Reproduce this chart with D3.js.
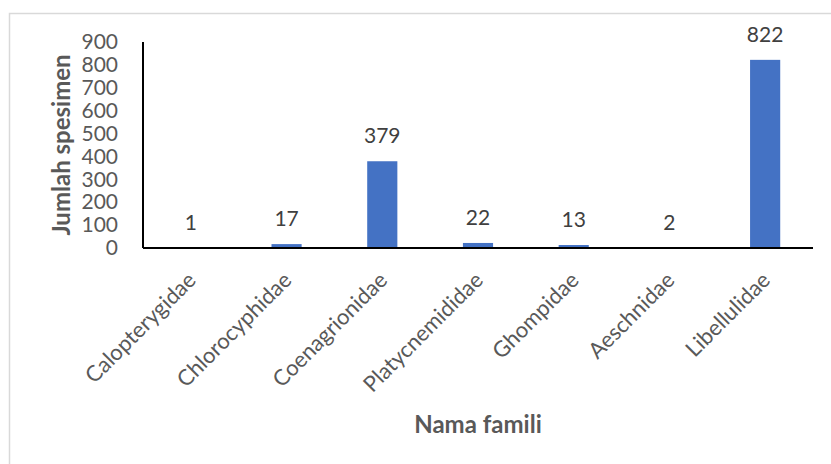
<!DOCTYPE html>
<html>
<head>
<meta charset="utf-8">
<script src="https://cdn.jsdelivr.net/npm/d3@7"></script>
<style>
  body { margin: 0; background: #fff; }
  svg { display: block; font-family: Lato, "Open Sans", sans-serif; }
</style>
</head>
<body>
<svg id="chart" width="831" height="464"></svg>
<script>
const families = ['Calopterygidae', 'Chlorocyphidae', 'Coenagrionidae', 'Platycnemididae', 'Ghompidae', 'Aeschnidae', 'Libellulidae'];
const counts = [1, 17, 379, 22, 13, 2, 822];
const yTicks = [0, 100, 200, 300, 400, 500, 600, 700, 800, 900];

const svg = d3.select('#chart');
const margin = { top: 42, right: 18, bottom: 216, left: 143 };
const width = 831 - margin.left - margin.right;
const height = 464 - margin.top - margin.bottom;

// chart frame (only left/top visible in the original)
svg.append('rect')
    .attr('x', 9.5)
    .attr('y', 13.5)
    .attr('width', 840)
    .attr('height', 470)
    .attr('fill', 'none')
    .attr('stroke', '#d9d9d9')
    .attr('stroke-width', 1.5);

const g = svg.append('g')
    .attr('transform', `translate(${margin.left},${margin.top})`);

const x = d3.scaleBand()
    .domain(families)
    .range([0, width])
    .paddingInner(0.685)
    .paddingOuter(0.3425);

const y = d3.scaleLinear()
    .domain([0, 900])
    .range([height, 0]);

// y tick labels
const yAxis = g.append('g')
    .call(d3.axisLeft(y).tickValues(yTicks).tickSize(0).tickPadding(25));
yAxis.select('.domain').remove();
yAxis.selectAll('text')
    .style('font-size', '21px')
    .style('fill', '#595959')
    .style('font-family', 'Lato, "Open Sans", sans-serif');

// bars
g.selectAll('.bar')
    .data(counts)
    .enter()
    .append('rect')
    .attr('class', 'bar')
    .attr('x', (d, i) => x(families[i]))
    .attr('y', d => y(d))
    .attr('width', x.bandwidth())
    .attr('height', d => height - y(d))
    .attr('fill', '#4472c4');

// data labels
g.selectAll('.value')
    .data(counts)
    .enter()
    .append('text')
    .attr('class', 'value')
    .attr('x', (d, i) => x(families[i]) + x.bandwidth() / 2)
    .attr('y', d => y(d) - 18)
    .attr('text-anchor', 'middle')
    .style('font-size', '21px')
    .style('fill', '#404040')
    .text(d => d);

// axis lines
g.append('line')
    .attr('x1', 0).attr('x2', 0)
    .attr('y1', 0).attr('y2', height)
    .attr('stroke', '#000')
    .attr('stroke-width', 2);
g.append('line')
    .attr('x1', 0).attr('x2', width)
    .attr('y1', height).attr('y2', height)
    .attr('stroke', '#000')
    .attr('stroke-width', 2);

// category labels, rotated
g.selectAll('.cat')
    .data(families)
    .enter()
    .append('text')
    .attr('class', 'cat')
    .attr('transform', d => `translate(${x(d) + x.bandwidth() / 2 + 1},${height + 28}) rotate(-45)`)
    .attr('text-anchor', 'end')
    .attr('dy', '0.35em')
    .style('font-size', '22px')
    .style('fill', '#595959')
    .text(d => d);

// axis titles
svg.append('text')
    .attr('transform', 'translate(70,145) rotate(-90)')
    .attr('text-anchor', 'middle')
    .style('font-size', '24px')
    .style('font-weight', 'bold')
    .style('fill', '#595959')
    .text('Jumlah spesimen');

svg.append('text')
    .attr('x', margin.left + width / 2)
    .attr('y', 433)
    .attr('text-anchor', 'middle')
    .style('font-size', '24px')
    .style('font-weight', 'bold')
    .style('fill', '#595959')
    .text('Nama famili');
</script>
</body>
</html>
